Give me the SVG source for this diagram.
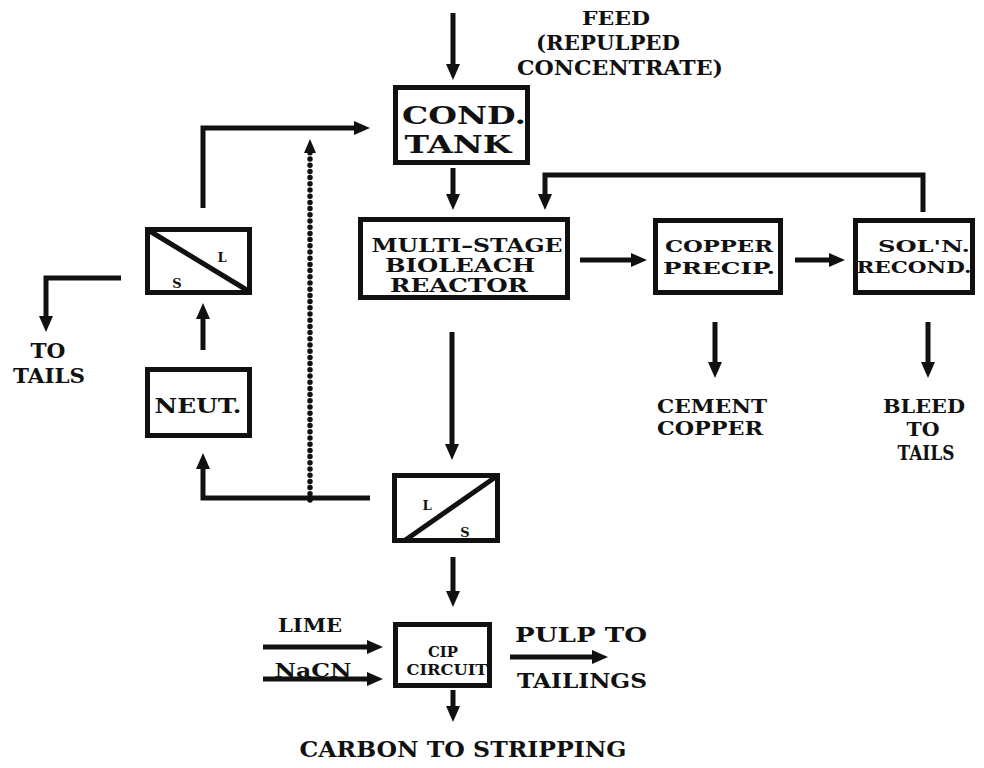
<svg xmlns="http://www.w3.org/2000/svg" width="984" height="768" viewBox="0 0 984 768">
<style>
text{font-family:"DejaVu Serif","Liberation Serif",serif;font-weight:bold;fill:#111}
.box{fill:none;stroke:#111;stroke-width:5}
.ln{fill:none;stroke:#111;stroke-width:5}
.arr{fill:none;stroke:#111;stroke-width:5;marker-end:url(#ah)}
.dot{fill:none;stroke:#111;stroke-width:5.5;stroke-linecap:round;stroke-dasharray:0 6.2;marker-end:url(#ahs)}
</style>
<defs>
<marker id="ah" markerUnits="userSpaceOnUse" markerWidth="16" markerHeight="14" refX="6" refY="7" orient="auto" viewBox="0 0 16 14">
<path d="M0,0 L16,7 L0,14 z" fill="#111"/>
</marker>
<marker id="ahs" markerUnits="userSpaceOnUse" markerWidth="14" markerHeight="12" refX="5" refY="6" orient="auto" viewBox="0 0 14 12">
<path d="M0,0 L14,6 L0,12 z" fill="#111"/>
</marker>
</defs>
<rect width="984" height="768" fill="#fff"/>

<g id="connectors">
<line class="arr" x1="453" y1="13" x2="453" y2="70"/>
<line class="arr" x1="453" y1="168" x2="453" y2="200"/>
<line class="arr" x1="580" y1="260" x2="637" y2="260"/>
<line class="arr" x1="795" y1="260" x2="835" y2="260"/>
<path class="arr" d="M923,212 V175 H545 V200"/>
<line class="arr" x1="715" y1="322" x2="715" y2="368"/>
<line class="arr" x1="928" y1="322" x2="928" y2="368"/>
<line class="arr" x1="452" y1="332" x2="452" y2="450"/>
<line class="arr" x1="453" y1="557" x2="453" y2="597"/>
<line class="arr" x1="453" y1="690" x2="453" y2="712"/>
<line class="arr" x1="263" y1="647" x2="373" y2="647"/>
<line class="arr" x1="263" y1="679" x2="373" y2="679"/>
<line class="arr" x1="510" y1="657" x2="598" y2="657"/>
<path class="arr" d="M370,498 H203 V463"/>
<line class="arr" x1="203" y1="350" x2="203" y2="313"/>
<path class="arr" d="M203,208 V128 H360"/>
<path class="arr" d="M121,278 H46 V322"/>
<line class="dot" x1="310" y1="500" x2="310" y2="148"/>
</g>

<g id="feed-label">
<text x="616" y="25" font-size="19" text-anchor="middle" textLength="68" lengthAdjust="spacingAndGlyphs">FEED</text>
<text x="608" y="50" font-size="20" text-anchor="middle" textLength="144" lengthAdjust="spacingAndGlyphs">(REPULPED</text>
<text x="620" y="75" font-size="20" text-anchor="middle" textLength="206" lengthAdjust="spacingAndGlyphs">CONCENTRATE)</text>
</g>

<g id="cond-tank">
<rect class="box" x="395.5" y="87.5" width="132" height="75"/>
<text x="464" y="124" font-size="25" text-anchor="middle" textLength="124" lengthAdjust="spacingAndGlyphs">COND.</text>
<text x="458" y="153" font-size="25" text-anchor="middle" textLength="107" lengthAdjust="spacingAndGlyphs">TANK</text>
</g>

<g id="bioleach">
<rect class="box" x="360.5" y="219.5" width="207" height="78"/>
<text x="467" y="252" font-size="18" text-anchor="middle" textLength="191" lengthAdjust="spacingAndGlyphs">MULTI–STAGE</text>
<text x="460" y="272" font-size="18" text-anchor="middle" textLength="150" lengthAdjust="spacingAndGlyphs">BIOLEACH</text>
<text x="459" y="292" font-size="18" text-anchor="middle" textLength="138" lengthAdjust="spacingAndGlyphs">REACTOR</text>
</g>

<g id="copper-precip">
<rect class="box" x="655.5" y="220.5" width="125" height="72"/>
<text x="719" y="252" font-size="17" text-anchor="middle" textLength="108" lengthAdjust="spacingAndGlyphs">COPPER</text>
<text x="719" y="274" font-size="17" text-anchor="middle" textLength="112" lengthAdjust="spacingAndGlyphs">PRECIP.</text>
</g>

<g id="soln-recond">
<rect class="box" x="855.5" y="220.5" width="117" height="72"/>
<text x="924" y="252" font-size="17" text-anchor="middle" textLength="92" lengthAdjust="spacingAndGlyphs">SOL'N.</text>
<text x="914" y="273" font-size="17" text-anchor="middle" textLength="115" lengthAdjust="spacingAndGlyphs">RECOND.</text>
</g>

<g id="cement-copper">
<text x="712" y="413" font-size="18" text-anchor="middle" textLength="110" lengthAdjust="spacingAndGlyphs">CEMENT</text>
<text x="710" y="435" font-size="18" text-anchor="middle" textLength="106" lengthAdjust="spacingAndGlyphs">COPPER</text>
</g>

<g id="bleed-to-tails">
<text x="924" y="413" font-size="18" text-anchor="middle" textLength="82" lengthAdjust="spacingAndGlyphs">BLEED</text>
<text x="923" y="436" font-size="18" text-anchor="middle" textLength="33" lengthAdjust="spacingAndGlyphs">TO</text>
<text x="926" y="460" font-size="20" text-anchor="middle" textLength="57" lengthAdjust="spacingAndGlyphs">TAILS</text>
</g>

<g id="upper-separator">
<rect class="box" x="147.5" y="229.5" width="102" height="63"/>
<line class="ln" x1="148" y1="230" x2="250" y2="292"/>
<text x="222" y="262" font-size="13" text-anchor="middle">L</text>
<text x="177" y="288" font-size="13" text-anchor="middle">S</text>
</g>

<g id="to-tails">
<text x="48" y="358" font-size="20" text-anchor="middle" textLength="35" lengthAdjust="spacingAndGlyphs">TO</text>
<text x="49" y="383" font-size="20" text-anchor="middle" textLength="72" lengthAdjust="spacingAndGlyphs">TAILS</text>
</g>

<g id="neut">
<rect class="box" x="147.5" y="369.5" width="102" height="66"/>
<text x="198" y="413" font-size="21" text-anchor="middle" textLength="87" lengthAdjust="spacingAndGlyphs">NEUT.</text>
</g>

<g id="lower-separator">
<rect class="box" x="394.5" y="475.5" width="103" height="65"/>
<line class="ln" x1="404" y1="541" x2="497" y2="476"/>
<text x="427" y="510" font-size="13" text-anchor="middle">L</text>
<text x="465" y="537" font-size="13" text-anchor="middle">S</text>
</g>

<g id="cip-circuit">
<rect class="box" x="395.5" y="624.5" width="94" height="61"/>
<text x="443" y="657" font-size="14" text-anchor="middle" textLength="30" lengthAdjust="spacingAndGlyphs">CIP</text>
<text x="447" y="675" font-size="14" text-anchor="middle" textLength="81" lengthAdjust="spacingAndGlyphs">CIRCUIT</text>
</g>

<g id="reagents">
<text x="310" y="632" font-size="19" text-anchor="middle" textLength="64" lengthAdjust="spacingAndGlyphs">LIME</text>
<text x="313" y="677" font-size="19" text-anchor="middle" textLength="77" lengthAdjust="spacingAndGlyphs">NaCN</text>
</g>

<g id="pulp-to-tailings">
<text x="581" y="642" font-size="20" text-anchor="middle" textLength="132" lengthAdjust="spacingAndGlyphs">PULP TO</text>
<text x="582" y="688" font-size="20" text-anchor="middle" textLength="130" lengthAdjust="spacingAndGlyphs">TAILINGS</text>
</g>

<g id="carbon-to-stripping">
<text x="463" y="757" font-size="23" text-anchor="middle" textLength="327" lengthAdjust="spacingAndGlyphs">CARBON TO STRIPPING</text>
</g>
</svg>
